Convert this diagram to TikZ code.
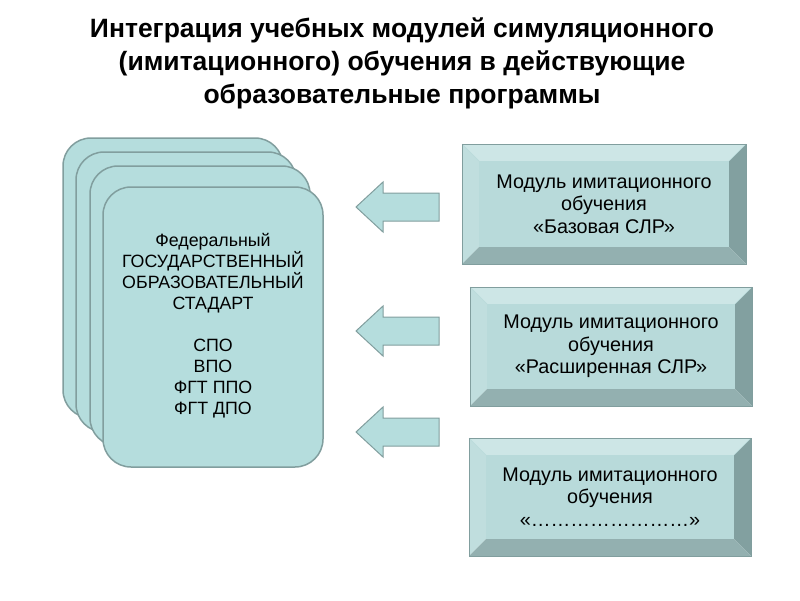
\documentclass[tikz,border=0pt]{standalone}
\usepackage{fontspec}
\setmainfont{Liberation Sans}
\usepackage{xcolor}
\definecolor{cardfill}{HTML}{B5DDDD}
\definecolor{cardline}{HTML}{819E9E}
\definecolor{bevellight}{HTML}{CDE6E6}
\definecolor{bevelside}{HTML}{C0DEDE}
\definecolor{beveldark}{HTML}{82A0A0}
\definecolor{bevelbottom}{HTML}{93B0B0}
\definecolor{boxfill}{HTML}{B8DADA}

% bevelled module box: name, x1, y1, x2, y2, text
\newcommand\modulebox[6]{%
  \fill[bevellight] (#2,#3) -- (#4,#3) -- (#4-17,#3+17) -- (#2+17,#3+17) -- cycle;
  \fill[bevelside] (#2,#3) -- (#2+17,#3+17) -- (#2+17,#5-17) -- (#2,#5) -- cycle;
  \fill[beveldark] (#4,#3) -- (#4,#5) -- (#4-17,#5-17) -- (#4-17,#3+17) -- cycle;
  \fill[bevelbottom] (#2,#5) -- (#2+17,#5-17) -- (#4-17,#5-17) -- (#4,#5) -- cycle;
  \draw[boxfill, line width=0.5pt] (#2,#3) -- (#2+17,#3+17) (#4,#3) -- (#4-17,#3+17);
  \fill[boxfill] (#2+17,#3+17) rectangle (#4-17,#5-17);
  \draw[cardline, line width=1pt] (#2,#3) rectangle (#4,#5);
  \node[modtext] (#1) at ({(#2+#4)/2},{(#3+#5)/2}) {#6};
}

\begin{document}
\begin{tikzpicture}[x=1pt, y=-1pt,
  card/.style={draw=cardline, fill=cardfill, line width=1.5pt, rounded corners=28pt},
  arrowblock/.style={draw=cardline, fill=cardfill, line width=1pt, line join=miter},
  cardtext/.style={align=center, font=\fontsize{17.8}{21}\selectfont},
  modtext/.style={align=center, font=\fontsize{19.8}{22.5}\selectfont}]
  \useasboundingbox (0,0) rectangle (800,600);

  % title
  \node[align=center, font=\bfseries\fontsize{26.5}{33}\selectfont] (title) at (402,63)
    {Интеграция учебных модулей симуляционного\\
     (имитационного) обучения в действующие\\
     образовательные программы};

  % stack of standards
  \foreach \cx/\cy in {63/138, 76/152, 90/166, 103/187}
    \draw[card] (\cx,\cy) rectangle ++(220,280);
  \node[cardtext] (standard) at (213,326)
    {Федеральный\\ГОСУДАРСТВЕННЫЙ\\ОБРАЗОВАТЕЛЬНЫЙ\\СТАДАРТ\\[21pt]
     СПО\\ВПО\\ФГТ ППО\\ФГТ ДПО};

  % modules
  \modulebox{basic}{462}{144}{746}{264}{Модуль имитационного\\обучения\\«Базовая СЛР»}
  \modulebox{extended}{470}{287}{752}{406}{Модуль имитационного\\обучения\\«Расширенная СЛР»}
  \modulebox{other}{469}{438}{751}{556}{Модуль имитационного\\обучения\\«……………………»}

  % arrows into the standard
  \foreach \ty in {207, 331, 432}
    \draw[arrowblock, shift={(356,\ty)}] (0,0) -- (27,-25) -- (27,-14) -- (83,-14)
      -- (83,14) -- (27,14) -- (27,25) -- cycle;
\end{tikzpicture}
\end{document}
